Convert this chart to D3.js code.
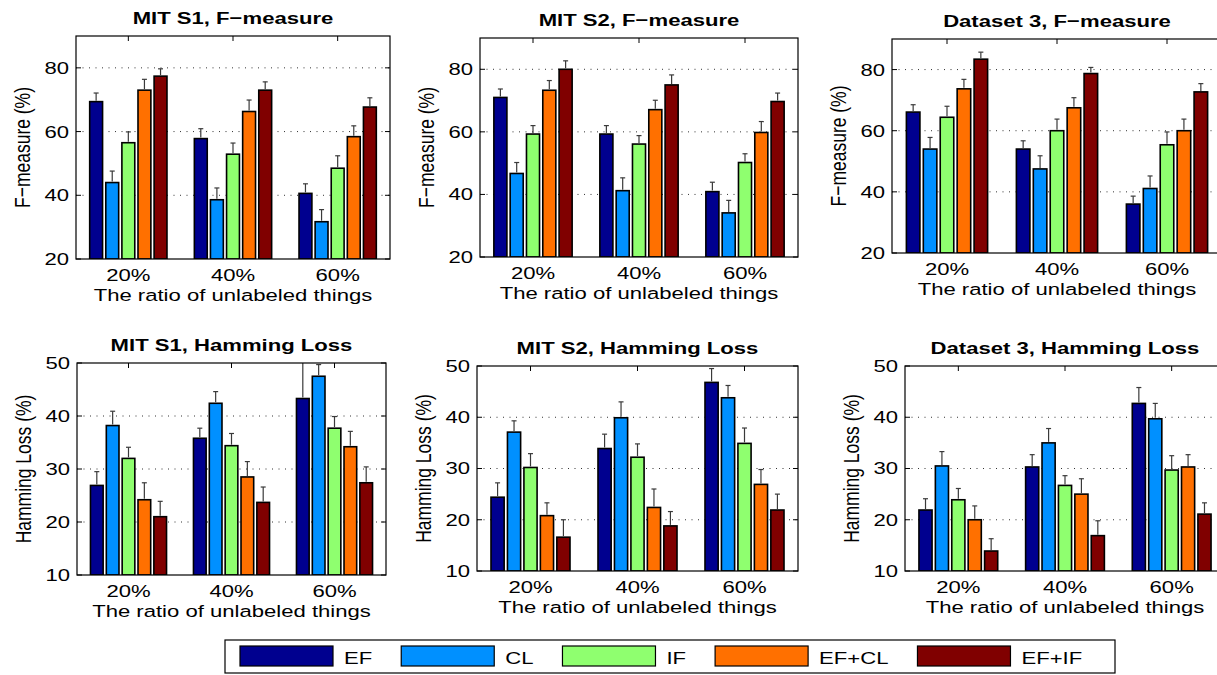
<!DOCTYPE html>
<html>
<head>
<meta charset="utf-8">
<script src="https://cdn.jsdelivr.net/npm/d3@7"></script>
<style>
  body { margin: 0; background: #fff; }
  text { font-family: "Liberation Sans", Arial, Helvetica, sans-serif; fill: #000; }
</style>
</head>
<body>
<svg id="chart" width="1217" height="675"></svg>
<script>
// categories and legend
const methods = ["EF", "CL", "IF", "EF+CL", "EF+IF"];
const colors = ["#00008F", "#0090FF", "#8FFF6F", "#FF7000", "#800000"];
const ratios = ["20%", "40%", "60%"];

// y axes
const fDomain = [20, 90];
const fTicks = [20, 40, 60, 80];
const hDomain = [10, 50];
const hTicks = [10, 20, 30, 40, 50];

// values: one row per method, one column per ratio
const s1F    = [[69.4, 57.8, 40.6], [44.0, 38.6, 31.7], [56.5, 52.9, 48.5], [73.0, 66.3, 58.4], [77.4, 73.0, 67.7]];
const s1FErr = [[2.7, 3.1, 3.0], [3.6, 3.7, 3.8], [3.4, 3.5, 3.9], [3.4, 3.6, 3.4], [2.3, 2.6, 2.9]];

const s2F    = [[71.0, 59.3, 40.9], [46.7, 41.2, 34.1], [59.3, 56.1, 50.2], [73.3, 67.1, 59.8], [80.0, 75.0, 69.7]];
const s2FErr = [[2.7, 2.7, 3.0], [3.5, 4.1, 4.0], [2.7, 2.7, 2.8], [3.1, 3.0, 3.5], [2.7, 3.2, 2.7]];

const d3F    = [[66.1, 54.0, 36.0], [54.0, 47.5, 41.1], [64.4, 60.0, 55.4], [73.7, 67.5, 60.0], [83.4, 78.7, 72.7]];
const d3FErr = [[2.4, 2.7, 2.6], [3.8, 4.3, 4.1], [3.6, 3.8, 4.2], [3.1, 3.3, 3.8], [2.3, 2.0, 2.7]];

const s1H    = [[26.9, 35.8, 43.3], [38.2, 42.4, 47.5], [32.0, 34.4, 37.7], [24.2, 28.5, 34.2], [21.0, 23.7, 27.4]];
const s1HErr = [[2.6, 1.9, 7.0], [2.7, 2.2, 2.2], [2.1, 2.3, 2.2], [3.2, 2.9, 2.9], [2.9, 2.9, 3.0]];

const s2H    = [[24.4, 33.9, 46.8], [37.1, 39.9, 43.8], [30.2, 32.2, 34.9], [20.8, 22.4, 26.9], [16.6, 18.8, 21.9]];
const s2HErr = [[2.8, 2.8, 2.7], [2.2, 3.1, 2.4], [2.7, 2.6, 3.0], [2.5, 3.6, 2.9], [3.4, 2.8, 3.1]];

const d3H    = [[21.9, 30.3, 42.7], [30.5, 35.0, 39.7], [23.9, 26.7, 29.7], [20.0, 25.0, 30.3], [13.9, 16.9, 21.1]];
const d3HErr = [[2.2, 2.4, 3.1], [2.8, 2.8, 3.0], [2.2, 1.9, 2.8], [2.7, 3.0, 2.4], [2.4, 2.9, 2.2]];

const xLabel = "The ratio of unlabeled things";
const SX = 1.3; // the source picture is stretched horizontally

const svg = d3.select("#chart");

// text stretched horizontally like the source
function label(g, x, y, str, anchor, size, weight) {
    return g.append("text")
        .attr("transform", `translate(${x},${y}) scale(${SX},1)`)
        .attr("text-anchor", anchor)
        .style("font-size", size + "px")
        .style("font-weight", weight || "normal")
        .text(str);
}

const panels = [
    { title: "MIT S1, F\u2212measure", ylabel: "F\u2212measure (%)", values: s1F, errors: s1FErr, dom: fDomain, ticks: fTicks, box: [76, 390, 36, 259] },
    { title: "MIT S2, F\u2212measure", ylabel: "F\u2212measure (%)", values: s2F, errors: s2FErr, dom: fDomain, ticks: fTicks, box: [480, 798, 38, 257] },
    { title: "Dataset 3, F\u2212measure", ylabel: "F\u2212measure (%)", values: d3F, errors: d3FErr, dom: fDomain, ticks: fTicks, box: [892, 1222, 39, 253] },
    { title: "MIT S1, Hamming Loss", ylabel: "Hamming Loss (%)", values: s1H, errors: s1HErr, dom: hDomain, ticks: hTicks, box: [77, 386, 363, 575] },
    { title: "MIT S2, Hamming Loss", ylabel: "Hamming Loss (%)", values: s2H, errors: s2HErr, dom: hDomain, ticks: hTicks, box: [477, 798, 366, 571] },
    { title: "Dataset 3, Hamming Loss", ylabel: "Hamming Loss (%)", values: d3H, errors: d3HErr, dom: hDomain, ticks: hTicks, box: [905, 1225, 366, 571] }
];

// matlab grouped bar geometry
const nM = methods.length;
const groupW = Math.min(0.8, nM / (nM + 1.5));
const step = groupW / nM;
const barW = step * 0.8;

panels.forEach((p, pi) => {
    const [x0, x1, y0, y1] = p.box;
    const x = d3.scaleLinear().domain([0.5, ratios.length + 0.5]).range([x0, x1]);
    const y = d3.scaleLinear().domain(p.dom).range([y1, y0]);
    const g = svg.append("g");

    const clipId = "clip" + pi;
    g.append("clipPath").attr("id", clipId)
        .append("rect").attr("x", x0).attr("y", y0).attr("width", x1 - x0).attr("height", y1 - y0);

    // dotted grid
    g.selectAll(".grid")
        .data(p.ticks.filter(t => t > p.dom[0] && t < p.dom[1]))
        .enter().append("line")
        .attr("x1", x0).attr("x2", x1)
        .attr("y1", d => y(d)).attr("y2", d => y(d))
        .attr("stroke", "#333").attr("stroke-width", 1)
        .attr("stroke-dasharray", "1,5.5");

    // inward ticks
    p.ticks.forEach(t => {
        g.append("line").attr("x1", x0).attr("x2", x0 + 5).attr("y1", y(t)).attr("y2", y(t)).attr("stroke", "#000");
        g.append("line").attr("x1", x1).attr("x2", x1 - 5).attr("y1", y(t)).attr("y2", y(t)).attr("stroke", "#000");
    });
    ratios.forEach((r, i) => {
        g.append("line").attr("x1", x(i + 1)).attr("x2", x(i + 1)).attr("y1", y0).attr("y2", y0 + 5).attr("stroke", "#000");
    });

    // bars
    const bars = [];
    p.values.forEach((row, m) => row.forEach((v, r) => bars.push({ m: m, r: r, v: v, e: p.errors[m][r] })));
    const cx = d => (d.r + 1) - groupW / 2 + step * (d.m + 0.5);

    const bg = g.append("g").attr("clip-path", `url(#${clipId})`);
    bg.selectAll("rect.bar")
        .data(bars)
        .enter().append("rect")
        .attr("class", "bar")
        .attr("x", d => x(cx(d) - barW / 2))
        .attr("width", d => x(cx(d) + barW / 2) - x(cx(d) - barW / 2))
        .attr("y", d => y(d.v))
        .attr("height", d => y(p.dom[0]) - y(d.v))
        .attr("fill", d => colors[d.m])
        .attr("stroke", "#000")
        .attr("stroke-width", 1.6);

    // upper error bars
    bg.selectAll("line.err")
        .data(bars)
        .enter().append("line")
        .attr("class", "err")
        .attr("x1", d => x(cx(d))).attr("x2", d => x(cx(d)))
        .attr("y1", d => y(d.v) - 1).attr("y2", d => y(d.v + d.e))
        .attr("stroke", "#3a3a3a").attr("stroke-width", 1.2);
    bg.selectAll("line.cap")
        .data(bars)
        .enter().append("line")
        .attr("class", "cap")
        .attr("x1", d => x(cx(d)) - 2.5).attr("x2", d => x(cx(d)) + 2.5)
        .attr("y1", d => y(d.v + d.e)).attr("y2", d => y(d.v + d.e))
        .attr("stroke", "#3a3a3a").attr("stroke-width", 1.2);

    // axes box
    g.append("rect")
        .attr("x", x0).attr("y", y0).attr("width", x1 - x0).attr("height", y1 - y0)
        .attr("fill", "none").attr("stroke", "#000").attr("stroke-width", 1.2);

    // tick labels
    p.ticks.forEach(t => {
        label(g, x0 - 7, y(t), t, "end", 17).attr("dy", "0.35em");
    });
    ratios.forEach((r, i) => {
        label(g, x(i + 1), y1 + 22, r, "middle", 17);
    });

    // axis titles
    label(g, (x0 + x1) / 2, y1 + 42, xLabel, "middle", 17);
    g.append("text")
        .attr("transform", `translate(${x0 - 46},${(y0 + y1) / 2}) scale(${SX},1) rotate(-90)`)
        .attr("text-anchor", "middle")
        .style("font-size", "17.5px")
        .text(p.ylabel);
    label(g, (x0 + x1) / 2, y0 - 12, p.title, "middle", 17, "bold");
});

// legend
const lg = svg.append("g");
lg.append("rect")
    .attr("x", 225).attr("y", 640).attr("width", 890).attr("height", 33)
    .attr("fill", "#fff").attr("stroke", "#000").attr("stroke-width", 1.2);
let lx = 240;
methods.forEach((m, i) => {
    lg.append("rect")
        .attr("x", lx).attr("y", 646).attr("width", 93).attr("height", 20)
        .attr("fill", colors[i]).attr("stroke", "#000").attr("stroke-width", 1.2);
    const t = label(lg, lx + 104, 664, m, "start", 17);
    const w = t.node().getComputedTextLength() * SX;
    lx += 104 + w + 29;
});
</script>
</body>
</html>
